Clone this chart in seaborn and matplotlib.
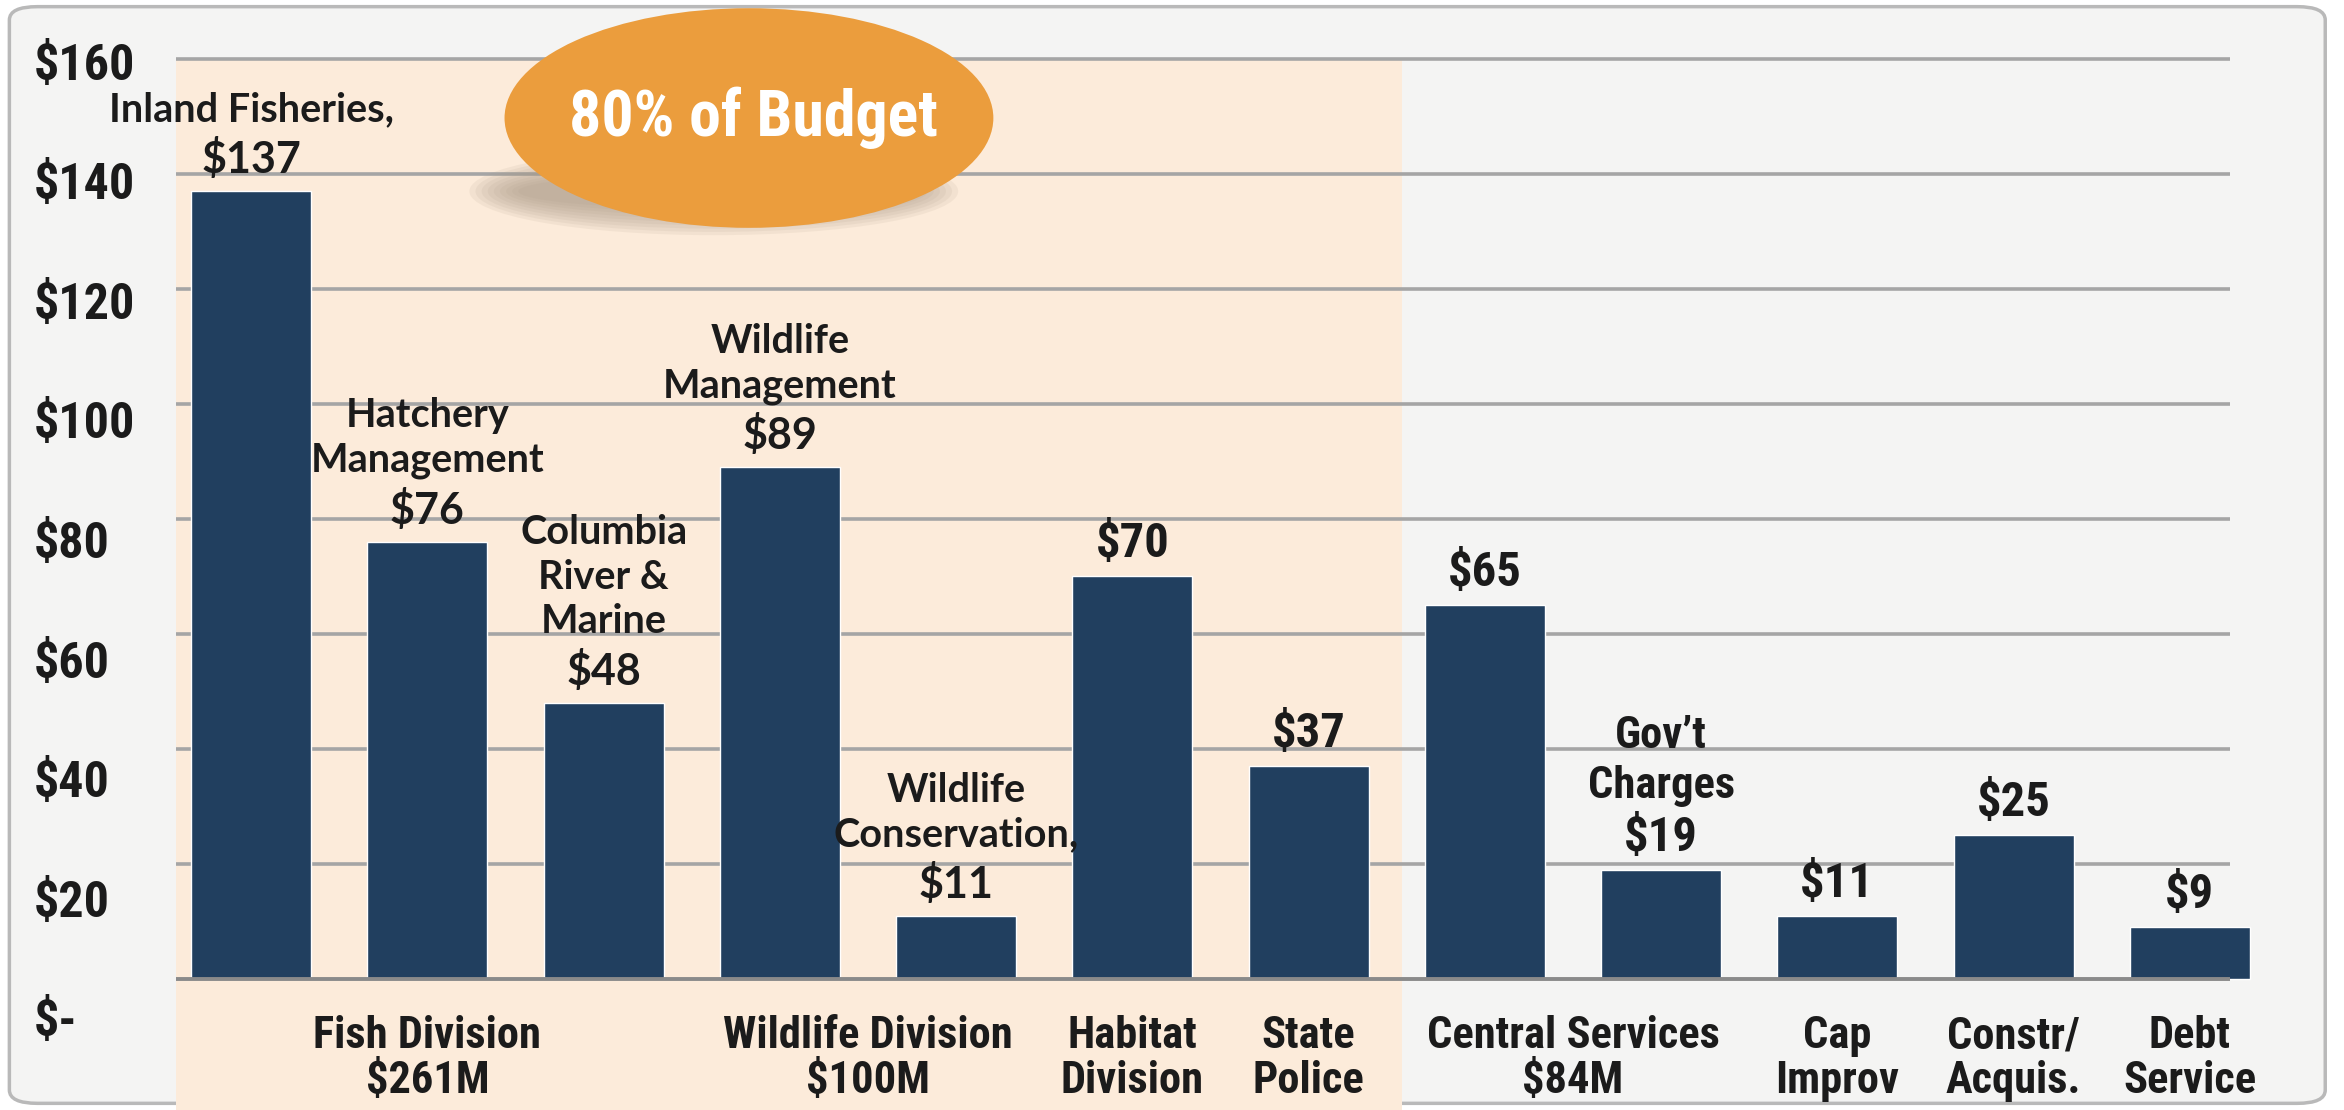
import matplotlib
matplotlib.use("Agg")
import matplotlib.pyplot as plt
from matplotlib import font_manager
from matplotlib.patches import Ellipse, Rectangle, FancyBboxPatch
import numpy as np
import pandas as pd
import seaborn as sns

# budget by program, $ millions
programs = ["Inland Fisheries", "Hatchery Management", "Columbia River & Marine",
            "Wildlife Management", "Wildlife Conservation", "Habitat Division",
            "State Police", "Central Services", "Gov't Charges", "Cap Improv",
            "Constr/Acquis.", "Debt Service"]
budget = [137, 76, 48, 89, 11, 70, 37, 65, 19, 11, 25, 9]
notes = ["Inland Fisheries,", "Hatchery\nManagement", "Columbia\nRiver &\nMarine",
         "Wildlife\nManagement", "Wildlife\nConservation,", "", "", "",
         "Gov\u2019t\nCharges", "", "", ""]
groups = ["Fish Division\n$261M"] * 3 + ["Wildlife Division\n$100M"] * 2 + \
         ["Habitat\nDivision", "State\nPolice", "Central Services\n$84M",
          "Central Services\n$84M", "Cap\nImprov", "Constr/\nAcquis.", "Debt\nService"]
y_ticks = [0, 20, 40, 60, 80, 100, 120, 140, 160]
y_labels = ["$-", "$20", "$40", "$60", "$80", "$100", "$120", "$140", "$160"]
callout = "80% of Budget"

navy = "#213f5f"
peach = "#fcebda"
paper = "#f4f4f3"
grid_c = "#a5a5a5"
ink = "#1b1b1b"
orange = "#eb9d3d"

available = {f.name for f in font_manager.fontManager.ttflist}
cond = next((f for f in ["Liberation Sans Narrow", "Roboto Condensed", "Open Sans Condensed"]
             if f in available), "DejaVu Sans")
plain = next((f for f in ["Lato", "Open Sans", "Noto Sans"] if f in available), "DejaVu Sans")

sns.set_style("white")
plt.rcParams["font.family"] = [cond, "DejaVu Sans"]

df = pd.DataFrame({"program": programs, "budget": budget, "note": notes, "group": groups})

fig = plt.figure(figsize=(23.44, 11.10), dpi=100, facecolor="white")
fig.add_artist(FancyBboxPatch((0.004, 0.006), 0.988, 0.988, boxstyle="round,pad=0,rounding_size=0.012",
                              transform=fig.transFigure, facecolor=paper, edgecolor="#b9b9b9",
                              linewidth=2.5, zorder=-5))

ax = fig.add_axes([118 / 1568, 0, (1540 - 118) / 1568, 1])
ax.set_facecolor("none")
x_left, x_right = -0.424, 11.637

# peach band behind the fish & wildlife programs
ax.add_patch(Rectangle((x_left, -22.8), 6.53 - x_left, 160 + 22.8, facecolor=peach,
                       edgecolor="none", zorder=0))
ax.hlines(y_ticks[1:], x_left, 11.23, color=grid_c, linewidth=2.6, zorder=1)
ax.hlines(0, x_left, 11.23, color="#8a8a8a", linewidth=2.8, zorder=3)

sns.barplot(data=df, x="program", y="budget", color=navy, saturation=1, width=0.68,
            ax=ax, zorder=2)
ax.set_xlim(x_left, x_right)
ax.set_ylim(-22.8, 170.2)
ax.set_xlabel("")
ax.set_ylabel("")
ax.set_xticks([])
ax.set_yticks([])
for s in ax.spines.values():
    s.set_visible(False)

for i, row in df.iterrows():
    fam = [plain, "DejaVu Sans"] if i < 5 else [cond, "DejaVu Sans"]
    ax.annotate(f"${row.budget}", (i, row.budget), xytext=(0, 23), textcoords="offset points",
                ha="center", va="center", fontsize=31 if i < 5 else 35, fontweight="bold",
                color=ink, family=fam, zorder=4)
    if row.note:
        ax.annotate(row.note, (i, row.budget), xytext=(0, 45), textcoords="offset points",
                    ha="center", va="bottom", fontsize=28.5 if i < 5 else 32, fontweight="bold",
                    color=ink, family=fam, linespacing=1.25, zorder=4)

# division labels under the baseline
for g, members in df.groupby("group", sort=False):
    ax.text(members.index.to_numpy().mean(), -13.9, g, ha="center", va="center",
            fontsize=32, fontweight="bold", color=ink, linespacing=1.08)

# y labels on their own scale, like the original slide
ax2 = ax.twinx()
ax2.set_ylim(-15.4, 170.2)
ax2.yaxis.tick_left()
ax2.set_yticks(y_ticks, y_labels)
ax2.tick_params(axis="y", length=0, pad=103, labelsize=36, labelcolor=ink)
for lab in ax2.get_yticklabels():
    lab.set_horizontalalignment("left")
    lab.set_fontweight("bold")
for s in ax2.spines.values():
    s.set_visible(False)

# "80% of Budget" oval with a soft shadow
cx, cy, w, h = 501 / 1568, 1 - 79 / 743, 327 / 1568, 147 / 743
for k in range(9):
    fig.add_artist(Ellipse((cx - 0.015, cy - 0.066), w * (1.0 - k * 0.025), h * (0.40 - k * 0.03),
                           transform=fig.transFigure, facecolor="#a89883", edgecolor="none",
                           alpha=0.11, zorder=5))
fig.add_artist(Ellipse((cx, cy), w, h, transform=fig.transFigure, facecolor=orange,
                       edgecolor="none", zorder=6))
fig.text(cx + 0.002, cy, callout, ha="center", va="center", fontsize=46, fontweight="bold",
         color="white", zorder=7)

fig.savefig("out.png", dpi=100, facecolor=fig.get_facecolor())
